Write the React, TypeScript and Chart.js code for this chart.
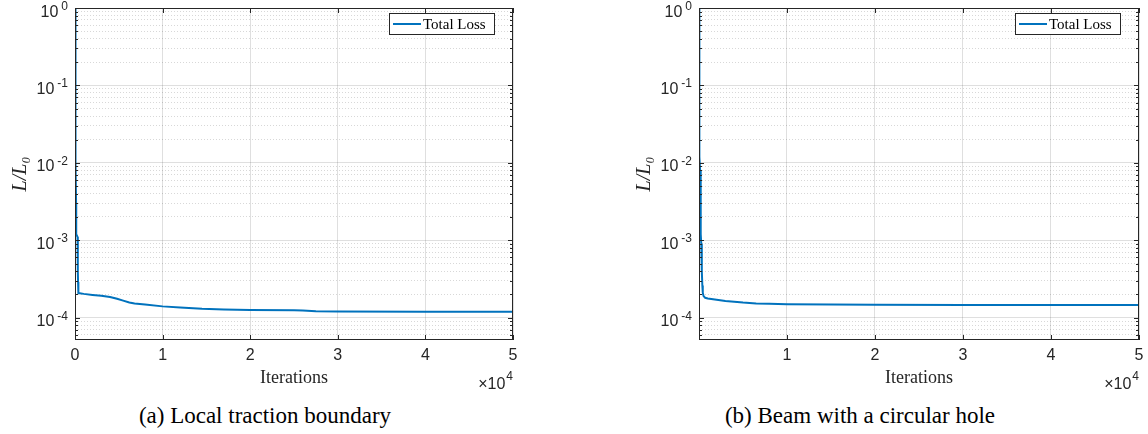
import React, { useEffect, useRef } from 'react';
import { Chart, registerables } from 'chart.js';

Chart.register(...registerables);

// ---------- data ----------
const iterationsA = [0, 20, 60, 100, 125, 140, 290, 320, 350, 370, 400, 1000, 2000, 3000, 4000, 4800, 5500, 6200, 6800, 8000, 10000, 12000, 14500, 17000, 20000, 25000, 26000, 27500, 30000, 40000, 50000];
const lossA = [1, 0.3, 0.05, 0.01, 0.003, 0.0012, 0.0011, 0.0004, 0.00029, 0.00024, 0.000208, 0.000203, 0.000197, 0.000192, 0.000185, 0.000176, 0.000166, 0.000157, 0.000153, 0.000148, 0.00014, 0.000135, 0.00013, 0.000128, 0.000126, 0.000125, 0.000124, 0.000121, 0.00012, 0.000119, 0.000119];

const iterationsB = [1, 10, 25, 50, 90, 130, 170, 220, 260, 300, 340, 380, 430, 520, 700, 1000, 2000, 3000, 4000, 5000, 6500, 8000, 10000, 15000, 20000, 30000, 40000, 50000];
const lossB = [1, 0.3, 0.07, 0.03, 0.012, 0.008, 0.003, 0.0012, 0.0009, 0.0006, 0.0004, 0.00026, 0.00021, 0.00019, 0.000181, 0.000177, 0.00017, 0.000164, 0.000161, 0.000157, 0.000153, 0.000151, 0.000149, 0.000148, 0.000147, 0.000146, 0.000146, 0.000146];

const xTickValuesA = [0, 10000, 20000, 30000, 40000, 50000];
const xTickLabelsA = ['0', '1', '2', '3', '4', '5'];
const xTickValuesB = [10000, 20000, 30000, 40000, 50000];
const xTickLabelsB = ['1', '2', '3', '4', '5'];

const yTickValues = [1, 0.1, 0.01, 0.001, 0.0001];
const yTickBase = '10';
const yTickExponents = ['0', '-1', '-2', '-3', '-4'];
const yMinorMultipliers = [2, 3, 4, 5, 6, 7, 8, 9];

const seriesLabel = 'Total Loss';
const xTitle = 'Iterations';
const yTitle = 'L/L₀';
const xExponentBase = '×10';
const xExponent = '4';
const captions = ['(a) Local traction boundary', '(b) Beam with a circular hole'];

const Y_MIN = 5.15e-5;
const Y_MAX = 1;
const X_MAX = 50000;

const FRAME = '#262626';
const LINE_COLOR = '#0072BD';
const SANS = '"Liberation Sans", Arial, sans-serif';
const SERIF = '"Liberation Serif", "Times New Roman", serif';

function yGridTicks() {
  const out: { value: number; major: boolean }[] = [];
  yTickValues.forEach((base) => {
    out.push({ value: base, major: true });
    yMinorMultipliers.forEach((m) => {
      const v = Number((m * base).toPrecision(6));
      if (v <= Y_MAX * 1.000001 && v >= Y_MIN) out.push({ value: v, major: false });
    });
  });
  yMinorMultipliers.forEach((m) => {
    const v = Number((m * 0.00001).toPrecision(6));
    if (v >= Y_MIN) out.push({ value: v, major: false });
  });
  return out.sort((a, b) => a.value - b.value);
}

type Spec = {
  xs: number[];
  ys: number[];
  xMin: number;
  xTicks: number[];
  xLabels: string[];
  padLeft: number;
  padRight: number;
};

const framePlugin = {
  id: 'frameAndExtras',
  afterDraw(chart: any) {
    const { ctx, chartArea } = chart;
    const { left, right, top, bottom } = chartArea;
    const xs = chart.scales.x;
    const ys = chart.scales.y;
    ctx.save();
    // inward tick marks
    ctx.strokeStyle = FRAME;
    ctx.lineWidth = 1;
    ctx.beginPath();
    xs.ticks.forEach((t: any) => {
      const px = Math.round(xs.getPixelForValue(t.value)) + 0.5;
      ctx.moveTo(px, bottom);
      ctx.lineTo(px, bottom - 5);
      ctx.moveTo(px, top);
      ctx.lineTo(px, top + 5);
    });
    ys.ticks.forEach((t: any) => {
      const py = Math.round(ys.getPixelForValue(t.value)) + 0.5;
      const len = t.major ? 5 : 3;
      ctx.moveTo(left, py);
      ctx.lineTo(left + len, py);
      ctx.moveTo(right, py);
      ctx.lineTo(right - len, py);
    });
    ctx.stroke();
    ctx.strokeRect(left + 0.5, top + 0.5, right - left - 1, bottom - top - 1);

    // y tick labels: 10 with raised exponent
    ctx.fillStyle = FRAME;
    ctx.textAlign = 'right';
    ctx.textBaseline = 'alphabetic';
    yTickValues.forEach((v, i) => {
      const py = ys.getPixelForValue(v);
      const xr = left - 7;
      ctx.font = `12px ${SANS}`;
      const we = ctx.measureText(yTickExponents[i]).width;
      ctx.fillText(yTickExponents[i], xr, py + 2);
      ctx.font = `16px ${SANS}`;
      ctx.fillText(yTickBase, xr - we - 3, py + 8.5);
    });

    // legend
    const ds = chart.data.datasets[0];
    const boxW = 106;
    const boxH = 22;
    const bx = right - 18 - boxW;
    const by = top + 5;
    ctx.fillStyle = '#ffffff';
    ctx.fillRect(bx, by, boxW, boxH);
    ctx.strokeStyle = FRAME;
    ctx.strokeRect(bx + 0.5, by + 0.5, boxW - 1, boxH - 1);
    ctx.strokeStyle = ds.borderColor;
    ctx.lineWidth = 2;
    ctx.beginPath();
    ctx.moveTo(bx + 4, by + boxH / 2);
    ctx.lineTo(bx + 32, by + boxH / 2);
    ctx.stroke();
    ctx.fillStyle = '#000000';
    ctx.font = `15px ${SERIF}`;
    ctx.textBaseline = 'middle';
    ctx.textAlign = 'left';
    ctx.fillText(ds.label, bx + 34, by + boxH / 2 + 1);

    // x10^4 multiplier
    ctx.fillStyle = FRAME;
    ctx.textAlign = 'right';
    ctx.textBaseline = 'alphabetic';
    ctx.font = `12px ${SANS}`;
    const wExp = ctx.measureText(xExponent).width;
    ctx.fillText(xExponent, right, bottom + 40);
    ctx.font = `16px ${SANS}`;
    ctx.fillText(xExponentBase, right - wExp - 1, bottom + 49);
    ctx.restore();
  },
};

function buildChart(canvas: HTMLCanvasElement, spec: Spec) {
  const data = spec.xs.map((x, i) => ({ x, y: spec.ys[i] }));
  return new Chart(canvas, {
    type: 'line',
    data: {
      datasets: [
        {
          label: seriesLabel,
          data,
          borderColor: LINE_COLOR,
          backgroundColor: LINE_COLOR,
          borderWidth: 2,
          pointRadius: 0,
          tension: 0,
          fill: false,
        },
      ],
    },
    options: {
      animation: false,
      responsive: false,
      devicePixelRatio: 1,
      layout: { padding: { top: 8, left: spec.padLeft, right: spec.padRight, bottom: 0 } },
      plugins: { legend: { display: false }, tooltip: { enabled: false }, title: { display: false } },
      scales: {
        x: {
          type: 'linear',
          min: spec.xMin,
          max: X_MAX,
          afterBuildTicks: (s: any) => {
            s.ticks = spec.xTicks.map((v) => ({ value: v }));
          },
          afterFit: (s: any) => {
            s.height = 55;
            s.paddingLeft = 0;
            s.paddingRight = 0;
          },
          ticks: {
            autoSkip: false,
            maxRotation: 0,
            padding: 6,
            color: FRAME,
            font: { family: SANS, size: 16 },
            callback: (v: any) => {
              const i = spec.xTicks.indexOf(Number(v));
              return i >= 0 ? spec.xLabels[i] : '';
            },
          },
          grid: { drawTicks: false, color: 'rgba(38,38,38,0.15)', lineWidth: 1 },
          border: { display: false },
          title: {
            display: true,
            text: xTitle,
            color: FRAME,
            font: { family: SERIF, size: 18 },
            padding: { top: 0, bottom: 6 },
          },
        },
        y: {
          type: 'logarithmic',
          min: Y_MIN,
          max: Y_MAX,
          afterBuildTicks: (s: any) => {
            s.ticks = yGridTicks();
          },
          afterFit: (s: any) => {
            s.width = 75;
            s.paddingTop = 0;
            s.paddingBottom = 0;
          },
          ticks: { display: false, autoSkip: false },
          grid: {
            drawTicks: false,
            lineWidth: 1,
            color: (c: any) => (c.tick && c.tick.major ? 'rgba(38,38,38,0.15)' : 'rgba(38,38,38,0.18)'),
          },
          border: {
            display: false,
            dash: (c: any) => (c.tick && c.tick.major ? [] : [1, 2]),
          },
          title: {
            display: true,
            text: yTitle,
            color: FRAME,
            font: { family: SERIF, size: 20, style: 'italic' },
            padding: { top: 9, bottom: 0 },
          },
        },
      },
    },
    plugins: [framePlugin],
  } as any);
}

function Panel({ spec, left }: { spec: Spec; left: number }) {
  const ref = useRef<HTMLCanvasElement>(null);
  useEffect(() => {
    const chart = buildChart(ref.current as HTMLCanvasElement, spec);
    return () => chart.destroy();
  }, []);
  return (
    <canvas
      ref={ref}
      width={574}
      height={395}
      style={{ position: 'absolute', left, top: 0, width: 574, height: 395 }}
    />
  );
}

const specA: Spec = {
  xs: iterationsA,
  ys: lossA,
  xMin: 0,
  xTicks: xTickValuesA,
  xLabels: xTickLabelsA,
  padLeft: 0,
  padRight: 61,
};

const specB: Spec = {
  xs: iterationsB,
  ys: lossB,
  xMin: 1,
  xTicks: xTickValuesB,
  xLabels: xTickLabelsB,
  padLeft: 50,
  padRight: 9,
};

export default function App() {
  const capStyle: React.CSSProperties = {
    position: 'absolute',
    top: 404,
    fontFamily: SERIF,
    fontSize: 23,
    lineHeight: 1,
    color: '#000',
    textAlign: 'center',
    whiteSpace: 'nowrap',
  };
  return (
    <div style={{ position: 'absolute', left: 0, top: 0, width: 1148, height: 434, background: '#fff', overflow: 'hidden' }}>
      <Panel spec={specA} left={0} />
      <Panel spec={specB} left={574} />
      <div style={{ ...capStyle, left: 0, width: 530 }}>{captions[0]}</div>
      <div style={{ ...capStyle, left: 560, width: 600 }}>{captions[1]}</div>
    </div>
  );
}
